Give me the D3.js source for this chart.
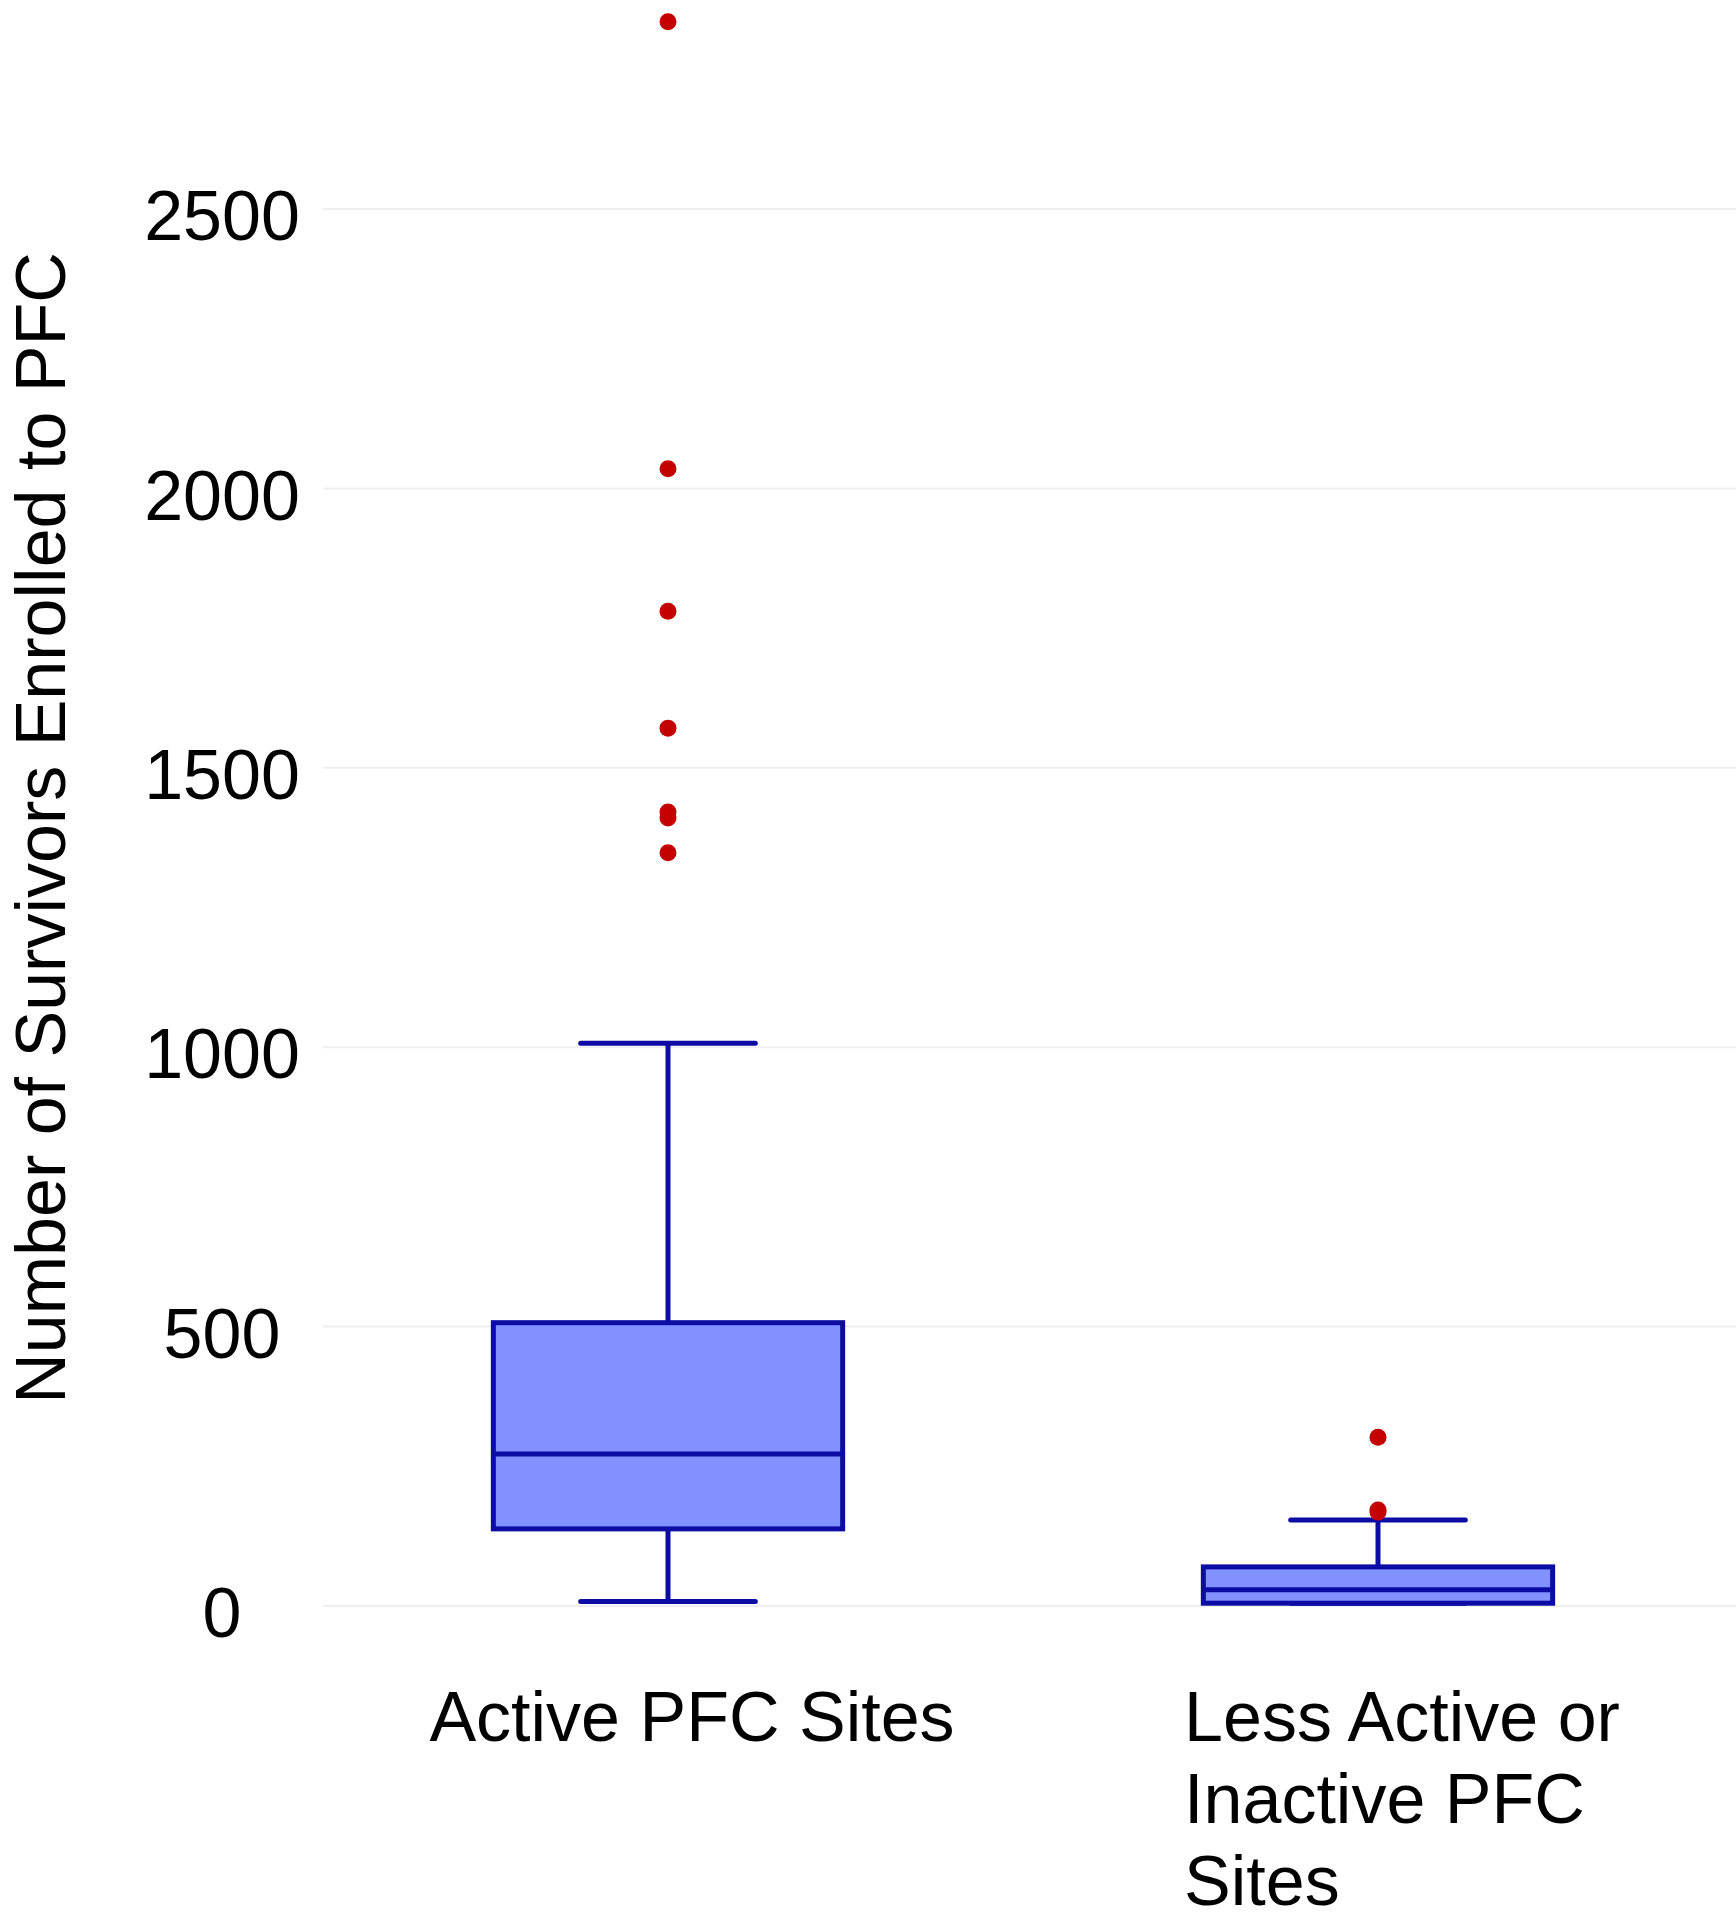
<!DOCTYPE html>
<html>
<head>
<meta charset="utf-8">
<script src="https://cdn.jsdelivr.net/npm/d3@7"></script>
<style>
  html, body { margin: 0; padding: 0; background: #ffffff; }
  svg { display: block; font-family: "Liberation Sans", Arial, sans-serif; }
</style>
</head>
<body>
<svg id="chart" width="1736" height="1920"></svg>
<script>
// ---- data ----
const categories = ["Active PFC Sites", "Less Active or Inactive PFC Sites"];
const labelLines = [["Active PFC Sites"], ["Less Active or", "Inactive PFC", "Sites"]];
const whiskerLow = [8, 5];
const q1 = [138, 5];
const median = [272, 29];
const q3 = [507, 70];
const whiskerHigh = [1007, 154];
const outliersActive = [2835, 2035, 1780, 1571, 1421, 1410, 1348];
const outliersLess = [302, 172, 168];
const yTicks = [0, 500, 1000, 1500, 2000, 2500];
const yTitle = "Number of Survivors Enrolled to PFC";

const outliers = [outliersActive, outliersLess];

const svg = d3.select("#chart");
const W = 1736, H = 1920;

const y = d3.scaleLinear().domain([0, 2500]).range([1606, 209]);
const x = d3.scalePoint().domain(categories).range([313, 1733]).padding(0.5);
const step = x.step();
const boxW = step * 0.492;
const capW = boxW / 2;

const strokeCol = "#0d0da6";
const fillCol = "#8191ff";
const outCol = "#c40000";
const sw = 5;

// gridlines
const grid = svg.append("g");
grid.selectAll("line").data(yTicks).join("line")
  .attr("x1", 323).attr("x2", W)
  .attr("y1", d => y(d)).attr("y2", d => y(d))
  .attr("stroke", "#efefef").attr("stroke-width", 2);

// y axis labels via d3 axis
const yAxis = d3.axisLeft(y).tickValues(yTicks).tickSize(0).tickPadding(0).tickFormat(d3.format("d"));
const yg = svg.append("g").attr("transform", "translate(222,0)").call(yAxis);
yg.select(".domain").remove();
yg.selectAll("text")
  .attr("text-anchor", "middle")
  .attr("font-family", "Liberation Sans, Arial, sans-serif")
  .attr("font-size", 70)
  .attr("fill", "#000")
  .attr("dy", "0.38em")
  .attr("y", 4);

// y title
svg.append("text")
  .attr("transform", `translate(65,828) rotate(-90)`)
  .attr("text-anchor", "middle")
  .attr("font-size", 70)
  .attr("fill", "#000")
  .text(yTitle);

// boxes
const data = categories.map((c, i) => ({
  c, lo: whiskerLow[i], q1: q1[i], med: median[i], q3: q3[i], hi: whiskerHigh[i], out: outliers[i]
}));

const g = svg.append("g");
data.forEach(d => {
  const cx = x(d.c);
  // whiskers
  g.append("line").attr("x1", cx).attr("x2", cx).attr("y1", y(d.q3)).attr("y2", y(d.hi))
    .attr("stroke", strokeCol).attr("stroke-width", sw);
  g.append("line").attr("x1", cx).attr("x2", cx).attr("y1", y(d.q1)).attr("y2", y(d.lo))
    .attr("stroke", strokeCol).attr("stroke-width", sw);
  g.append("line").attr("x1", cx - capW / 2).attr("x2", cx + capW / 2).attr("y1", y(d.hi)).attr("y2", y(d.hi))
    .attr("stroke", strokeCol).attr("stroke-width", sw).attr("stroke-linecap", "round");
  g.append("line").attr("x1", cx - capW / 2).attr("x2", cx + capW / 2).attr("y1", y(d.lo)).attr("y2", y(d.lo))
    .attr("stroke", strokeCol).attr("stroke-width", sw).attr("stroke-linecap", "round");
  // box
  g.append("rect").attr("x", cx - boxW / 2).attr("width", boxW)
    .attr("y", y(d.q3)).attr("height", y(d.q1) - y(d.q3))
    .attr("fill", fillCol).attr("stroke", strokeCol).attr("stroke-width", sw);
  g.append("line").attr("x1", cx - boxW / 2).attr("x2", cx + boxW / 2).attr("y1", y(d.med)).attr("y2", y(d.med))
    .attr("stroke", strokeCol).attr("stroke-width", sw);
  // outliers
  g.selectAll(null).data(d.out).join("circle")
    .attr("cx", cx).attr("cy", v => y(v)).attr("r", 8.5)
    .attr("fill", outCol);
});

// x labels
const lab = svg.append("g");
data.forEach((d, i) => {
  const cx = x(d.c) + 24;
  const t = lab.append("text").attr("font-size", 70).attr("fill", "#000");
  labelLines[i].forEach((ln, j) => {
    t.append("tspan").attr("y", 1741 + j * 82).text(ln);
  });
  let maxW = 0;
  t.selectAll("tspan").each(function () { maxW = Math.max(maxW, this.getComputedTextLength()); });
  t.selectAll("tspan").attr("x", cx - maxW / 2);
});
</script>
</body>
</html>
